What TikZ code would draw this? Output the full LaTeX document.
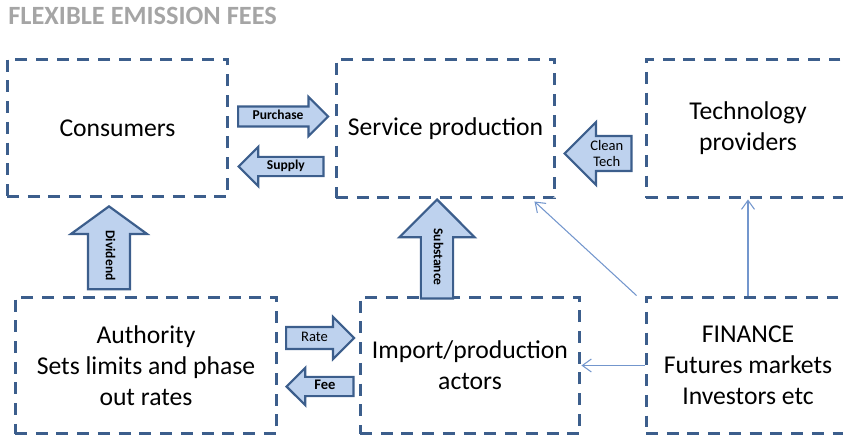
\documentclass[tikz,border=0pt]{standalone}
\usepackage{fontspec}
\setmainfont{Carlito}
\usepackage{xcolor}
\usepackage{tikz}
\usetikzlibrary{positioning,shapes.arrows,arrows.meta}

\definecolor{boxblue}{RGB}{60,94,140}
\definecolor{arrowfill}{RGB}{190,210,238}
\definecolor{linkblue}{RGB}{115,150,205}
\definecolor{titlegray}{RGB}{165,165,165}

\begin{document}
\begin{tikzpicture}[
    x=0.02cm, y=-0.02cm,
    box/.style={draw=boxblue, line width=1.7pt, dash pattern=on 6.8pt off 5pt, align=center, inner sep=0pt, font=\fontsize{14.6}{17.6}\selectfont},
    blockarrow/.style={single arrow, draw=boxblue, fill=arrowfill, line width=1.25pt, inner xsep=1pt, font=\fontsize{7.7}{9}\selectfont\bfseries},
    onerow/.style={text height=5pt, text depth=1.5pt},
    link/.style={draw=linkblue, line width=0.6pt, -{Straight Barb[length=1.8mm,width=2.6mm]}}
]
\clip (0,0) rectangle (843,436);

\node[anchor=base west, inner sep=0pt, text=titlegray, font=\fontsize{15}{17}\selectfont\bfseries] (title) at (8,25) {FLEXIBLE EMISSION FEES};

\node[box, minimum width=4.42cm, minimum height=2.76cm] (consumers) at (117.5,128) {Consumers};
\node[box, minimum width=4.38cm, minimum height=2.78cm] (service) at (445.5,128.5) {Service production};
\node[box, minimum width=4.08cm, minimum height=2.78cm] (tech) at (748,128.5) {Technology\\providers};
\node[box, minimum width=5.24cm, minimum height=2.74cm] (authority) at (146,365.5) {Authority\\Sets limits and phase\\out rates};
\node[box, minimum width=4.4cm, minimum height=2.74cm] (import) at (470,365.5) {Import/production\\actors};
\node[box, minimum width=4.08cm, minimum height=2.74cm] (finance) at (748,365.5) {FINANCE\\Futures markets\\Investors etc};

\node[blockarrow, onerow, minimum height=1.8cm, inner ysep=1.85pt, single arrow head extend=0.19cm, anchor=tail] (purchase) at (237,116.5) {Purchase};
\node[blockarrow, onerow, shape border rotate=180, minimum height=1.7cm, inner ysep=1.6pt, single arrow head extend=0.2cm, anchor=tip] (supply) at (237,166.5) {Supply};
\node[blockarrow, shape border rotate=180, minimum height=1.34cm, inner ysep=1.6pt, single arrow head extend=0.28cm, anchor=tip, align=center, font=\fontsize{8.3}{9.6}\selectfont] (cleantech) at (563,153.5) {Clean\\Tech};
\node[blockarrow, onerow, shape border rotate=180, rotate=-90, minimum height=1.66cm, inner ysep=8.1pt, single arrow head extend=0.34cm, single arrow tip angle=108, anchor=tip] (dividend) at (109,205) {Dividend};
\node[blockarrow, onerow, shape border rotate=180, rotate=-90, minimum height=1.98cm, inner ysep=5.3pt, single arrow head extend=0.43cm, anchor=tip] (substance) at (437,198) {Substance};
\node[blockarrow, onerow, minimum height=1.36cm, inner ysep=2.4pt, single arrow head extend=0.2cm, anchor=tail, font=\fontsize{8.3}{9.6}\selectfont] (rate) at (285,338) {Rate};
\node[blockarrow, onerow, shape border rotate=180, minimum height=1.34cm, inner ysep=1.6pt, single arrow head extend=0.18cm, anchor=tip, font=\fontsize{8.3}{9.6}\selectfont\bfseries] (fee) at (285,386.5) {Fee};

\draw[link] ([xshift=-0.16cm]finance.north west) -- ([xshift=-0.44cm,yshift=-0.04cm]service.south east);
\draw[link] (finance.north) -- (tech.south);
\draw[link] (finance.west) -- (import.east);
\end{tikzpicture}
\end{document}
